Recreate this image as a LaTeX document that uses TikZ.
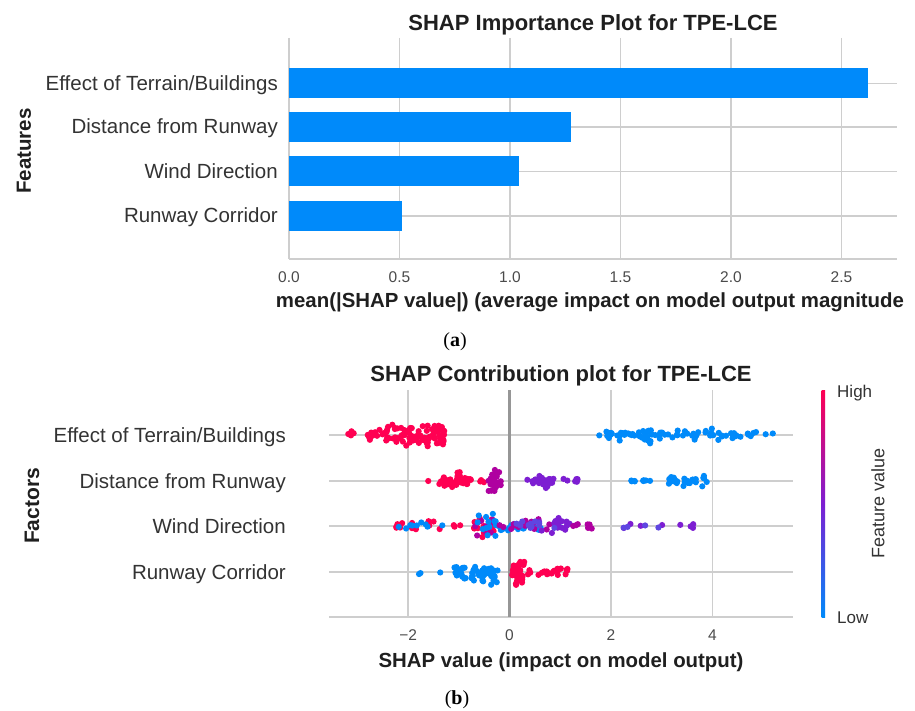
\documentclass[tikz,border=0pt]{standalone}
\usepackage{fontspec}
\setmainfont{Liberation Sans}
\newfontfamily\capfont{Liberation Serif}
\definecolor{sblue}{RGB}{0,138,250}
\definecolor{sred}{RGB}{255,0,82}
\definecolor{spurp}{RGB}{125,30,210}
\definecolor{smag}{RGB}{175,0,160}
\definecolor{sviol}{RGB}{95,70,225}
\definecolor{gridc}{RGB}{206,206,206}
\definecolor{zeroc}{RGB}{150,150,150}
\definecolor{txt}{RGB}{51,51,51}
\definecolor{tickc}{RGB}{75,75,75}
\newcommand\swarm[6]{%
  \foreach \k in {1,...,#4}{%
    \pgfmathsetmacro\xx{509.5+50.7*((#2)+((#3)-(#2))*rnd)}%
    \pgfmathsetmacro\yy{#1+(#5)*(2*rnd-1)*(0.35+0.65*rnd)}%
    \fill[#6] (\xx,\yy) circle[radius=3.1pt];
  }}
\begin{document}
\begin{tikzpicture}[x=1pt,y=-1pt,
  gridl/.style={draw=gridc, line width=1.5pt},
  flab/.style={anchor=base east, text=txt, font=\fontsize{20.5}{24}\selectfont, inner sep=0},
  ttl/.style={anchor=base, text=black!88, font=\bfseries\fontsize{22}{26}\selectfont, inner sep=0},
  xlab/.style={anchor=base, text=black!88, font=\bfseries\fontsize{20.4}{24}\selectfont, inner sep=0},
  ylab/.style={rotate=90, text=black!88, font=\bfseries\fontsize{20.5}{24}\selectfont, inner sep=0},
  tickl/.style={anchor=base, text=tickc, font=\fontsize{15.5}{18}\selectfont, inner sep=0},
  cbl/.style={text=txt, font=\fontsize{17}{20}\selectfont, inner sep=0},
  capt/.style={font=\capfont\fontsize{20}{24}\selectfont, inner sep=0},
  bar/.style={fill=sblue}]
\useasboundingbox (0,0) rectangle (915,711);
\fill[white] (0,0) rectangle (915,711);
\pgfmathsetseed{4242}

% ================= (a) importance plot =================
\foreach \v in {0,0.5,1,1.5,2,2.5}{
  \draw[gridl] ({289+221*\v},38) -- ({289+221*\v},259);
}
\foreach \y in {83.5,127,171.5,216}{
  \draw[gridl] (289,\y) -- (897,\y);
}
\draw[gridl] (289,259) -- (897,259);
\fill[bar] (289,68.5) rectangle ({289+221*2.62},98.5);
\fill[bar] (289,112) rectangle ({289+221*1.276},142);
\fill[bar] (289,156.5) rectangle ({289+221*1.04},186.5);
\fill[bar] (289,201) rectangle ({289+221*0.51},231);

\node[ttl] (ta) at (593,31) {SHAP Importance Plot for TPE-LCE};
\node[flab] (a1) at (278,90.5) {Effect of Terrain/Buildings};
\node[flab] (a2) at (278,134) {Distance from Runway};
\node[flab] (a3) at (278,178.5) {Wind Direction};
\node[flab] (a4) at (278,223) {Runway Corridor};
\node[ylab] (fa) at (24,151) {Features};
\node[tickl] (t00) at (289,282.5) {0.0};
\node[tickl] (t05) at (399.5,282.5) {0.5};
\node[tickl] (t10) at (510,282.5) {1.0};
\node[tickl] (t15) at (620.5,282.5) {1.5};
\node[tickl] (t20) at (731,282.5) {2.0};
\node[tickl] (t25) at (841.5,282.5) {2.5};
\node[xlab] (xa) at (590,307) {mean(|SHAP value|) (average impact on model output magnitude};
\node[capt] (ca) at (455,342) {(\textbf{a})};

% ================= (b) contribution plot =================
\foreach \x in {408.1,610.9,712.3}{
  \draw[gridl] (\x,390) -- (\x,617);
}
\foreach \y in {435,481,526,572}{
  \draw[gridl] (329,\y) -- (793,\y);
}
\draw[gridl] (329,617) -- (793,617);
\draw[draw=zeroc, line width=2.4pt] (509.5,390) -- (509.5,617);

% row 1: Effect of Terrain/Buildings
\swarm{435}{-3.18}{-3.0}{5}{6}{sred}
\swarm{435}{-2.8}{-2.45}{14}{7}{sred}
\swarm{435}{-2.45}{-1.3}{70}{12}{sred}
\swarm{435}{-1.55}{-1.28}{18}{11}{sred}
\swarm{435}{1.75}{5.2}{45}{4}{sblue}
\swarm{435}{1.9}{4.2}{30}{7}{sblue}
\swarm{435}{2.6}{2.8}{12}{11}{sblue}
% row 2: Distance from Runway
\swarm{481}{-1.65}{-1.6}{1}{0}{sred}
\swarm{481}{-1.4}{-0.75}{30}{6}{sred}
\swarm{481}{-1.15}{-0.95}{12}{10}{sred}
\swarm{481}{-0.6}{-0.42}{3}{2}{sred}
\swarm{481}{-0.42}{-0.15}{24}{13}{smag}
\swarm{481}{0.3}{1.35}{16}{4}{spurp}
\swarm{481}{0.55}{0.85}{16}{8}{spurp}
\swarm{481}{2.4}{2.8}{9}{1}{sblue}
\swarm{481}{3.1}{3.9}{28}{6}{sblue}
% row 3: Wind Direction
\swarm{526}{-2.3}{-1.3}{16}{6}{sred}
\swarm{526}{-2.2}{-1.2}{9}{5}{sblue}
\swarm{526}{-1.1}{-0.95}{3}{2}{sred}
\swarm{526}{-0.7}{-0.3}{18}{14}{sred}
\swarm{526}{-0.7}{-0.3}{10}{12}{smag}
\swarm{526}{-0.7}{-0.2}{12}{14}{sblue}
\swarm{526}{-0.3}{1.0}{24}{6}{sblue}
\swarm{526}{-0.2}{1.0}{18}{7}{smag}
\swarm{526}{0.5}{1.2}{18}{9}{spurp}
\swarm{526}{0.1}{0.9}{12}{6}{sviol}
\swarm{526}{1.2}{1.9}{8}{3}{smag}
\swarm{526}{2.0}{3.8}{8}{3}{spurp}
\swarm{526}{2.0}{3.0}{4}{3}{sviol}
% row 4: Runway Corridor
\swarm{572}{-1.8}{-1.7}{2}{3}{sblue}
\swarm{572}{-1.4}{-1.3}{1}{1}{sblue}
\swarm{572}{-1.1}{-0.2}{42}{9}{sblue}
\swarm{572}{-0.55}{-0.25}{16}{14}{sblue}
\swarm{572}{0.05}{0.3}{36}{15}{sred}
\swarm{572}{0.3}{1.15}{22}{5}{sred}

\node[ttl] (tb) at (561,381) {SHAP Contribution plot for TPE-LCE};
\node[flab] (b1) at (286,442) {Effect of Terrain/Buildings};
\node[flab] (b2) at (286,488) {Distance from Runway};
\node[flab] (b3) at (286,533) {Wind Direction};
\node[flab] (b4) at (286,579) {Runway Corridor};
\node[ylab, font=\bfseries\fontsize{21}{24}\selectfont] (fb) at (32,506) {Factors};
\node[tickl] (tm2) at (408.1,640.5) {−2};
\node[tickl] (tz) at (509.5,640.5) {0};
\node[tickl] (tp2) at (610.9,640.5) {2};
\node[tickl] (tp4) at (712.3,640.5) {4};
\node[xlab] (xb) at (561,667) {SHAP value (impact on model output)};
\node[capt] (cb) at (457,700) {(\textbf{b})};

% colour bar
\shade[bottom color=sblue, top color=sred, middle color=spurp] (821.5,390) rectangle (825,617);
\node[cbl, anchor=base west] (hi) at (837,397) {High};
\node[cbl, anchor=base west] (lo) at (837,623) {Low};
\node[cbl, rotate=90, font=\fontsize{18}{20}\selectfont] (fv) at (878,503) {Feature value};
\end{tikzpicture}
\end{document}
